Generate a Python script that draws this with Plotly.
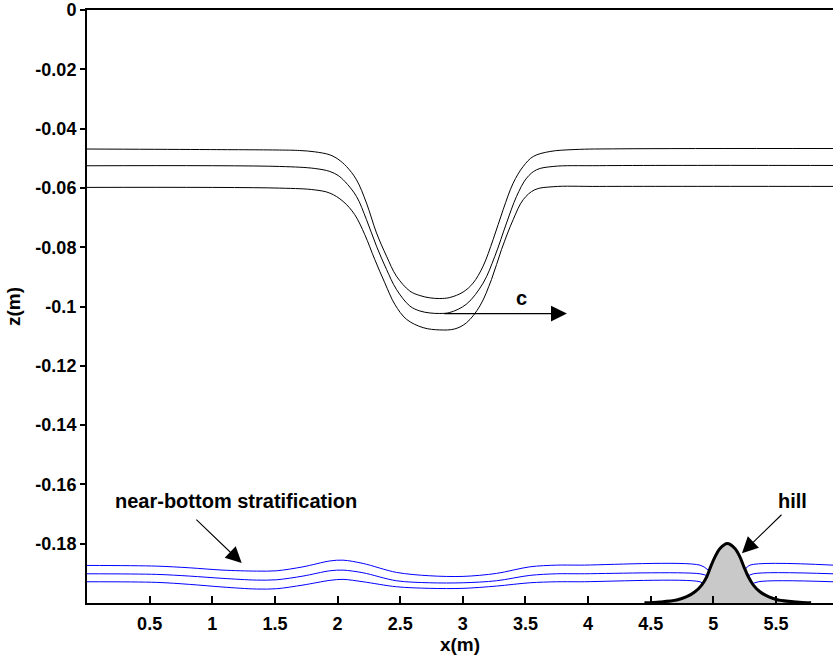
import plotly.graph_objects as go

# ---- Data ----
# Upper (interfacial) wave of depression: three isopycnals
wave_x1 = [0.000, 0.899, 1.538, 1.698, 1.818, 1.938, 2.004, 2.071, 2.151, 2.231, 2.311, 2.391,
           2.470, 2.577, 2.657, 2.737, 2.816, 2.896, 3.002, 3.082, 3.162, 3.242, 3.322, 3.402,
           3.482, 3.562, 3.695, 3.895, 4.254, 5.955]
wave_z1 = [-0.04689, -0.04706, -0.04723, -0.04739, -0.04783, -0.04884, -0.05032, -0.05277, -0.05724,
           -0.06511, -0.07519, -0.08303, -0.08975, -0.09479, -0.09630, -0.09708, -0.09731, -0.09697,
           -0.09513, -0.09210, -0.08639, -0.07741, -0.06733, -0.05839, -0.05277, -0.04941, -0.04773,
           -0.04706, -0.04682, -0.04672]
wave_x2 = [0.000, 1.538, 1.818, 1.938, 2.004, 2.058, 2.151, 2.231, 2.311, 2.391, 2.470, 2.577,
           2.657, 2.737, 2.816, 2.896, 3.030, 3.162, 3.256, 3.349, 3.429, 3.509, 3.589, 3.721,
           4.094, 5.955]
wave_z2 = [-0.05254, -0.05277, -0.05345, -0.05445, -0.05580, -0.05782, -0.06286, -0.07069, -0.07966,
           -0.08750, -0.09422, -0.09983, -0.10151, -0.10218, -0.10235, -0.10202, -0.09916, -0.09210,
           -0.08303, -0.07183, -0.06286, -0.05671, -0.05388, -0.05277, -0.05250, -0.05244]
wave_x3 = [0.000, 1.538, 1.818, 1.938, 2.044, 2.137, 2.217, 2.297, 2.377, 2.457, 2.550, 2.683,
           2.816, 2.936, 3.030, 3.136, 3.229, 3.309, 3.402, 3.482, 3.575, 3.721, 4.094, 5.955]
wave_z3 = [-0.05983, -0.06007, -0.06067, -0.06175, -0.06454, -0.06901, -0.07573, -0.08413, -0.09200,
           -0.09926, -0.10430, -0.10713, -0.10790, -0.10756, -0.10545, -0.09983, -0.09086, -0.08077,
           -0.07069, -0.06397, -0.06061, -0.05960, -0.05950, -0.05950]

# Near-bottom stratification (three blue isopycnals), split by the hill
strat_x = [0.0, 0.553, 0.819, 1.085, 1.352, 1.512, 1.724, 1.938, 2.044, 2.204, 2.470, 2.736,
           3.002, 3.269, 3.535, 3.748, 3.934, 4.893]
strat_z1 = [-0.18733, -0.18756, -0.18813, -0.18891, -0.18924, -0.18914, -0.18780, -0.18582, -0.18555,
            -0.18666, -0.18968, -0.19082, -0.19103, -0.19002, -0.18780, -0.18723, -0.18723, -0.18723]
strat_z2 = [-0.19015, -0.19035, -0.19092, -0.19170, -0.19227, -0.19217, -0.19092, -0.18914, -0.18891,
            -0.18981, -0.19250, -0.19318, -0.19318, -0.19250, -0.19069, -0.19015, -0.19015, -0.19015]
strat_z3 = [-0.19284, -0.19304, -0.19372, -0.19462, -0.19529, -0.19519, -0.19395, -0.19237, -0.19203,
            -0.19284, -0.19452, -0.19506, -0.19506, -0.19429, -0.19318, -0.19284, -0.19284, -0.19284]
# bends into the hill on the left side, and out of it on the right side
left_end_x = [4.959, 4.973, 4.933]
left_end_z = [-0.18891, -0.19116, -0.19395]
right_x = [[5.253, 5.292, 5.955], [5.266, 5.319, 5.955], [5.292, 5.359, 5.955]]
right_z = [[-0.18867, -0.18723, -0.18723], [-0.19116, -0.19015, -0.19015], [-0.19395, -0.19284, -0.19284]]

# Hill topography
hill_x = [4.450, 4.573, 4.707, 4.787, 4.853, 4.907, 4.947, 4.978, 5.013, 5.053, 5.111,
          5.172, 5.212, 5.244, 5.279, 5.319, 5.372, 5.439, 5.518, 5.665, 5.780]
hill_z = [-0.19995, -0.19966, -0.19899, -0.19788, -0.19620, -0.19395, -0.19116, -0.18780,
          -0.18444, -0.18161, -0.17993, -0.18161, -0.18444, -0.18780, -0.19116, -0.19395, -0.19620,
          -0.19788, -0.19899, -0.19966, -0.19995]
z_floor = -0.2

# Axes
x_range = [0, 5.955]
y_range = [-0.2, 0]
x_tickvals = [0.5, 1, 1.5, 2, 2.5, 3, 3.5, 4, 4.5, 5, 5.5]
x_ticktext = ["0.5", "1", "1.5", "2", "2.5", "3", "3.5", "4", "4.5", "5", "5.5"]
y_tickvals = [0, -0.02, -0.04, -0.06, -0.08, -0.1, -0.12, -0.14, -0.16, -0.18]
y_ticktext = ["0", "-0.02", "-0.04", "-0.06", "-0.08", "-0.1", "-0.12", "-0.14", "-0.16", "-0.18"]

# Annotation anchors (data coords)
c_arrow = dict(x0=2.840, x1=3.831, z=-0.1024)
c_text = dict(x=3.471, z=-0.0970, text="c")
strat_arrow = dict(x0=0.861, z0=-0.1714, x1=1.235, z1=-0.18655)
strat_text = dict(x=1.190, z=-0.1657, text="near-bottom stratification")
hill_arrow = dict(x0=5.556, z0=-0.16975, x1=5.228, z1=-0.18319)
hill_text = dict(x=5.628, z=-0.1657, text="hill")

FONT = "Liberation Sans, Arial, Helvetica, sans-serif"

fig = go.Figure()

for xs, zs in [(wave_x1, wave_z1), (wave_x2, wave_z2), (wave_x3, wave_z3)]:
    fig.add_trace(go.Scatter(x=xs, y=zs, mode="lines",
                             line=dict(color="black", width=1, shape="spline", smoothing=1.0),
                             hoverinfo="skip", showlegend=False))

for i, zs in enumerate([strat_z1, strat_z2, strat_z3]):
    xs = strat_x + [left_end_x[i]]
    ys = zs + [left_end_z[i]]
    fig.add_trace(go.Scatter(x=xs, y=ys, mode="lines",
                             line=dict(color="#0000ff", width=1, shape="spline", smoothing=0.9),
                             hoverinfo="skip", showlegend=False))
    fig.add_trace(go.Scatter(x=right_x[i], y=right_z[i], mode="lines",
                             line=dict(color="#0000ff", width=1, shape="spline", smoothing=0.9),
                             hoverinfo="skip", showlegend=False))

# hill fill
fig.add_trace(go.Scatter(x=[hill_x[0]] + hill_x + [hill_x[-1]],
                         y=[z_floor] + hill_z + [z_floor],
                         mode="lines", fill="toself", fillcolor="#c9c9c9",
                         line=dict(width=0, color="rgba(0,0,0,0)", shape="spline"),
                         hoverinfo="skip", showlegend=False))
# hill outline
fig.add_trace(go.Scatter(x=hill_x, y=hill_z, mode="lines",
                         line=dict(color="black", width=3, shape="spline", smoothing=0.9),
                         hoverinfo="skip", showlegend=False))

annotations = []
for a in [dict(x=c_arrow["x1"], y=c_arrow["z"], ax=c_arrow["x0"], ay=c_arrow["z"]),
          dict(x=strat_arrow["x1"], y=strat_arrow["z1"], ax=strat_arrow["x0"], ay=strat_arrow["z0"]),
          dict(x=hill_arrow["x1"], y=hill_arrow["z1"], ax=hill_arrow["x0"], ay=hill_arrow["z0"])]:
    a.update(xref="x", yref="y", axref="x", ayref="y", text="", showarrow=True,
             arrowhead=2, arrowsize=2.9, arrowwidth=1.1, arrowcolor="black", standoff=0)
    annotations.append(a)
for t in [c_text, strat_text, hill_text]:
    annotations.append(dict(x=t["x"], y=t["z"], xref="x", yref="y", text="<b>" + t["text"] + "</b>",
                            showarrow=False, font=dict(family=FONT, size=20, color="black"),
                            xanchor="center", yanchor="middle"))

fig.update_layout(
    width=833, height=664,
    margin=dict(l=87, r=0, t=8, b=61),
    paper_bgcolor="white", plot_bgcolor="white",
    font=dict(family=FONT, size=18, color="black"),
    annotations=annotations,
    xaxis=dict(range=x_range, showgrid=False, zeroline=False,
               showline=True, linecolor="black", linewidth=2, mirror=True,
               ticks="inside", ticklen=7, tickwidth=2, tickcolor="black",
               tickvals=x_tickvals, ticktext=["<b>%s</b>" % t for t in x_ticktext],
               ticklabelstandoff=3, ticklabeloverflow="allow",
               title=dict(text="<b>x(m)</b>", font=dict(size=19), standoff=4)),
    yaxis=dict(range=y_range, showgrid=False, zeroline=False,
               showline=True, linecolor="black", linewidth=2, mirror=False,
               ticks="outside", ticklen=5, tickwidth=2, tickcolor="black",
               tickvals=y_tickvals, ticktext=["<b>%s</b>" % t for t in y_ticktext],
               ticklabeloverflow="allow",
               title=dict(text="<b>z(m)</b>", font=dict(size=19), standoff=10)),
)

fig.write_html("out.html")
